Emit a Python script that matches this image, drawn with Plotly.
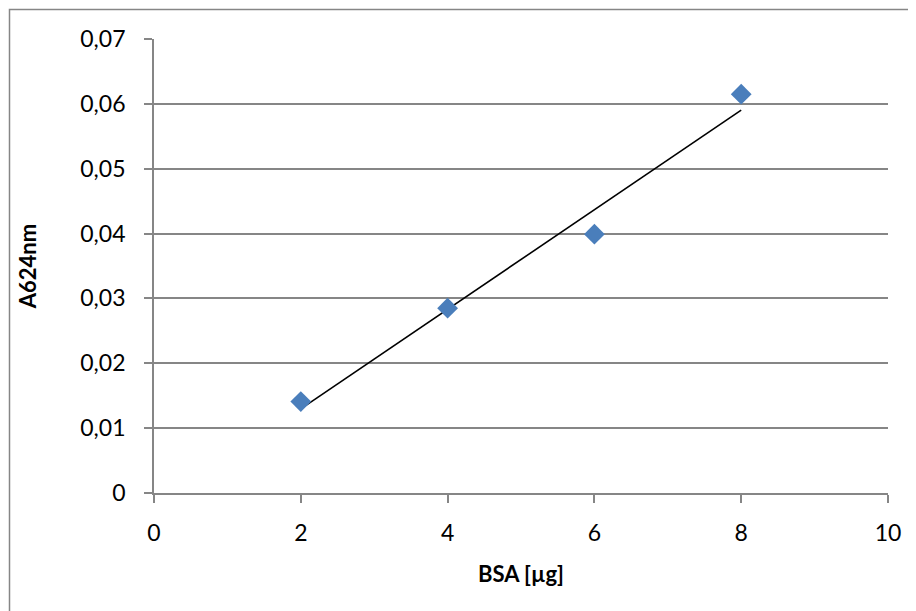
import numpy as np
import plotly.graph_objects as go

bsa_ug = [2, 4, 6, 8]
a624 = [0.0141, 0.0285, 0.0399, 0.0615]

x_ticks = [0, 2, 4, 6, 8, 10]
y_ticks = [0, 0.01, 0.02, 0.03, 0.04, 0.05, 0.06, 0.07]
y_tick_labels = ["0", "0,01", "0,02", "0,03", "0,04", "0,05", "0,06", "0,07"]

# linear trendline (least squares), drawn between first and last x
slope, intercept = np.polyfit(bsa_ug, a624, 1)
trend_x = [bsa_ug[0], bsa_ug[-1]]
trend_y = [slope * v + intercept for v in trend_x]

FONT = "Lato, Calibri, Carlito, sans-serif"
GRAY = "#868686"

fig = go.Figure()
fig.add_trace(go.Scatter(
    x=trend_x, y=trend_y, mode="lines",
    line=dict(color="black", width=1.6), showlegend=False, hoverinfo="skip",
))
fig.add_trace(go.Scatter(
    x=bsa_ug, y=a624, mode="markers",
    marker=dict(symbol="diamond", size=16, color="#4A7EBB",
                line=dict(width=0)),
    showlegend=False,
))

OFF = 8  # page body margin
W, H = 916 - OFF, 611 - OFF
L, R, T, B = 154 - OFF, 28, 39 - OFF, 118
pw, ph = W - L - R, H - T - B

def px_x(p):  # screen px -> paper
    return (p - OFF - L) / pw

def px_y(p):
    return (H - B - (p - OFF)) / ph

fig.add_shape(type="rect", xref="paper", yref="paper",
              x0=px_x(9.5), x1=px_x(940), y0=px_y(640), y1=px_y(9.5),
              line=dict(color=GRAY, width=1.5), layer="below")

fig.update_layout(
    width=W, height=H,
    margin=dict(l=L, r=R, t=T, b=B, pad=0),
    paper_bgcolor="white", plot_bgcolor="white",
    font=dict(family=FONT, size=23, color="black"),
)
fig.update_xaxes(
    range=[0, 10], tickvals=x_ticks, ticktext=[str(v) for v in x_ticks],
    showgrid=False, zeroline=False, showline=True, linecolor=GRAY, linewidth=1.8,
    ticks="outside", ticklen=8, tickcolor=GRAY, tickwidth=1.8,
    tickfont=dict(size=23, family=FONT), ticklabelstandoff=10,
    title=dict(text="<b>BSA [µg]</b>", font=dict(size=22, family=FONT), standoff=22),
)
fig.update_yaxes(
    range=[0, 0.07], tickvals=y_ticks, ticktext=y_tick_labels,
    showgrid=True, gridcolor=GRAY, gridwidth=1.8,
    zeroline=False, showline=True, linecolor=GRAY, linewidth=1.8,
    ticks="outside", ticklen=8, tickcolor=GRAY, tickwidth=1.8,
    tickfont=dict(size=23, family=FONT), ticklabelstandoff=14,
    title=dict(text="<b>A624nm</b>", font=dict(size=22, family=FONT), standoff=38),
)

fig.write_html("out.html")
